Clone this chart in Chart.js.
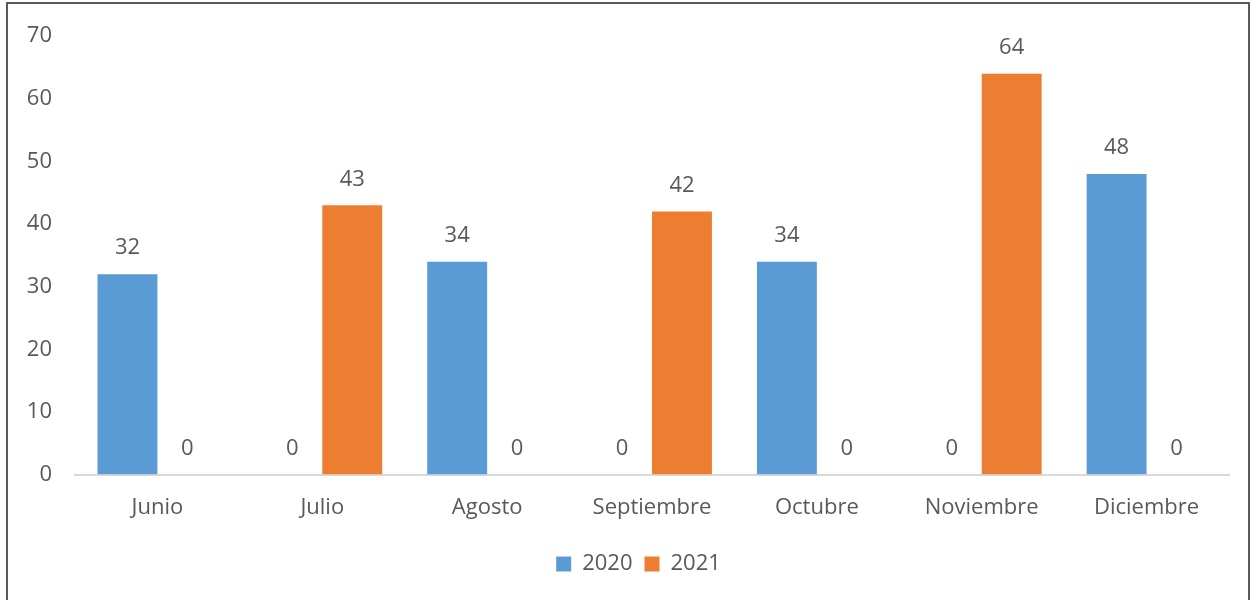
<!DOCTYPE html>
<html>
<head>
<meta charset="utf-8">
<script src="https://cdn.jsdelivr.net/npm/chart.js@4.4.0/dist/chart.umd.min.js"></script>
<style>
  html, body { margin: 0; padding: 0; background: #fff; }
  #wrap { position: relative; width: 1260px; height: 600px; overflow: hidden; }
  #frame { position: absolute; left: 6px; top: 2px; width: 1244px; height: 620px; border: 2px solid #5a5a5a; box-sizing: border-box; pointer-events: none; }
</style>
</head>
<body>
<div id="wrap">
  <canvas id="myChart" width="1260" height="600"></canvas>
  <div id="frame"></div>
</div>
<script>
'use strict';
let months = ['Junio', 'Julio', 'Agosto', 'Septiembre', 'Octubre', 'Noviembre', 'Diciembre'];
let values2020 = [32, 0, 34, 0, 34, 0, 48];
let values2021 = [0, 43, 0, 42, 0, 64, 0];
let yTicks = [0, 10, 20, 30, 40, 50, 60, 70];

let textColor = '#595959';
let fontFamily = '"Open Sans", "Noto Sans", sans-serif';
let fontSize = 22;

// values above each bar
let valueLabels = {
  id: 'valueLabels',
  afterDatasetsDraw(chart) {
    let ctx = chart.ctx;
    ctx.save();
    ctx.fillStyle = textColor;
    ctx.font = fontSize + 'px ' + fontFamily;
    ctx.textAlign = 'center';
    ctx.textBaseline = 'middle';
    chart.data.datasets.forEach(function (ds, i) {
      let meta = chart.getDatasetMeta(i);
      meta.data.forEach(function (bar, j) {
        ctx.fillText(ds.data[j], bar.x, bar.y - 26);
      });
    });
    ctx.restore();
  }
};

// legend sits a bit right of the plot centre, like the original
let legendShift = {
  id: 'legendShift',
  afterLayout(chart) {
    chart.legend.left += 24;
    chart.legend.right += 24;
  }
};

let ctx = document.getElementById('myChart').getContext('2d');
let myChart = new Chart(ctx, {
  type: 'bar',
  data: {
    labels: months,
    datasets: [{
      label: '2020',
      data: values2020,
      backgroundColor: '#5B9BD5',
      categoryPercentage: 0.727,
      barPercentage: 1
    }, {
      label: '2021',
      data: values2021,
      backgroundColor: '#ED7D31',
      categoryPercentage: 0.727,
      barPercentage: 1
    }]
  },
  options: {
    responsive: false,
    animation: false,
    layout: { padding: { top: 35, right: 31, bottom: 15, left: 0 } },
    plugins: {
      tooltip: { enabled: false },
      legend: {
        position: 'bottom',
        labels: {
          color: textColor,
          font: { family: fontFamily, size: fontSize },
          boxWidth: 15,
          boxHeight: 15,
          padding: 12
        }
      }
    },
    scales: {
      x: {
        grid: { display: false, drawTicks: false },
        border: { display: true, color: '#d9d9d9', width: 2 },
        ticks: { color: textColor, font: { family: fontFamily, size: fontSize }, padding: 20, maxRotation: 0 }
      },
      y: {
        min: 0,
        max: 70,
        afterBuildTicks(scale) {
          scale.ticks = yTicks.map(function (v) { return { value: v }; });
        },
        afterFit(scale) { scale.width = 75; },
        grid: { display: false, drawTicks: false },
        border: { display: false },
        ticks: { color: textColor, font: { family: fontFamily, size: fontSize }, padding: 23 }
      }
    }
  },
  plugins: [valueLabels, legendShift]
});
</script>
</body>
</html>
